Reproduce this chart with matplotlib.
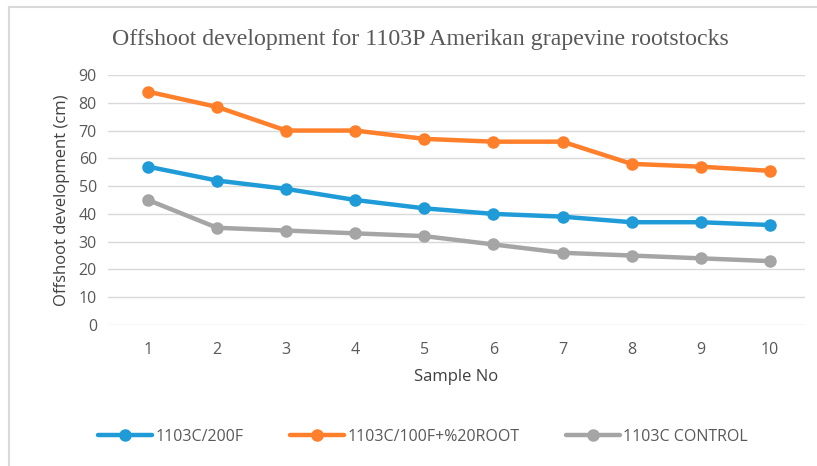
import matplotlib
matplotlib.use("Agg")
import matplotlib.pyplot as plt
from matplotlib.lines import Line2D

samples = [1, 2, 3, 4, 5, 6, 7, 8, 9, 10]
s_200f = [57, 52, 49, 45, 42, 40, 39, 37, 37, 36]
s_100f_root = [84, 78.5, 70, 70, 67, 66, 66, 58, 57, 55.5]
s_control = [45, 35, 34, 33, 32, 29, 26, 25, 24, 23]
labels = ["1103C/200F", "1103C/100F+%20ROOT", "1103C CONTROL"]
colors = ["#1F9BD8", "#FF7F2A", "#A5A5A5"]

W, H = 817, 466
fig = plt.figure(figsize=(W / 100, H / 100), dpi=100)
fig.patch.set_facecolor("white")

# frame border (top and left visible)
fig.add_artist(Line2D([9 / W, 1], [1 - 7 / H, 1 - 7 / H], color="#D9D9D9", lw=1.5, transform=fig.transFigure))
fig.add_artist(Line2D([9 / W, 9 / W], [0, 1 - 7 / H], color="#D9D9D9", lw=1.5, transform=fig.transFigure))

ax = fig.add_axes([108 / W, 1 - 325 / H, (805 - 108) / W, (325 - 75) / H])
for vals, lab, c in zip([s_200f, s_100f_root, s_control], labels, colors):
    ax.plot(samples, vals, color=c, lw=3.2, marker="o", ms=8, label=lab, solid_capstyle="round")

ax.set_ylim(0, 90)
ax.set_xlim(0.42, 10.51)
ax.set_yticks(range(0, 91, 10))
ax.set_xticks(samples)
ax.grid(axis="y", color="#D9D9D9", lw=1)
ax.set_axisbelow(True)
for s in ax.spines.values():
    s.set_visible(False)
ax.tick_params(length=0, labelsize=11.5, labelcolor="#595959", pad=8)
for t in ax.get_xticklabels() + ax.get_yticklabels():
    t.set_fontfamily("Open Sans")
ax.tick_params(axis="x", pad=12)

ax.set_xlabel("Sample No", fontsize=12, color="#404040", family="Open Sans", labelpad=8)
ax.set_ylabel("Offshoot development (cm)", fontsize=12, color="#404040", family="Open Sans", labelpad=6)

fig.text(420 / W, 1 - 40 / H, "Offshoot development for 1103P Amerikan grapevine rootstocks",
         ha="center", va="center", fontsize=17.2, color="#595959", family="Liberation Serif")

leg = fig.legend(loc="center", bbox_to_anchor=(423 / W, 1 - 437 / H), ncol=3, frameon=False,
                 handlelength=3.4, columnspacing=2.9, handletextpad=0.2,
                 prop={"family": "Open Sans", "size": 11.5})
for t in leg.get_texts():
    t.set_color("#595959")

fig.savefig("out.png", dpi=100)
